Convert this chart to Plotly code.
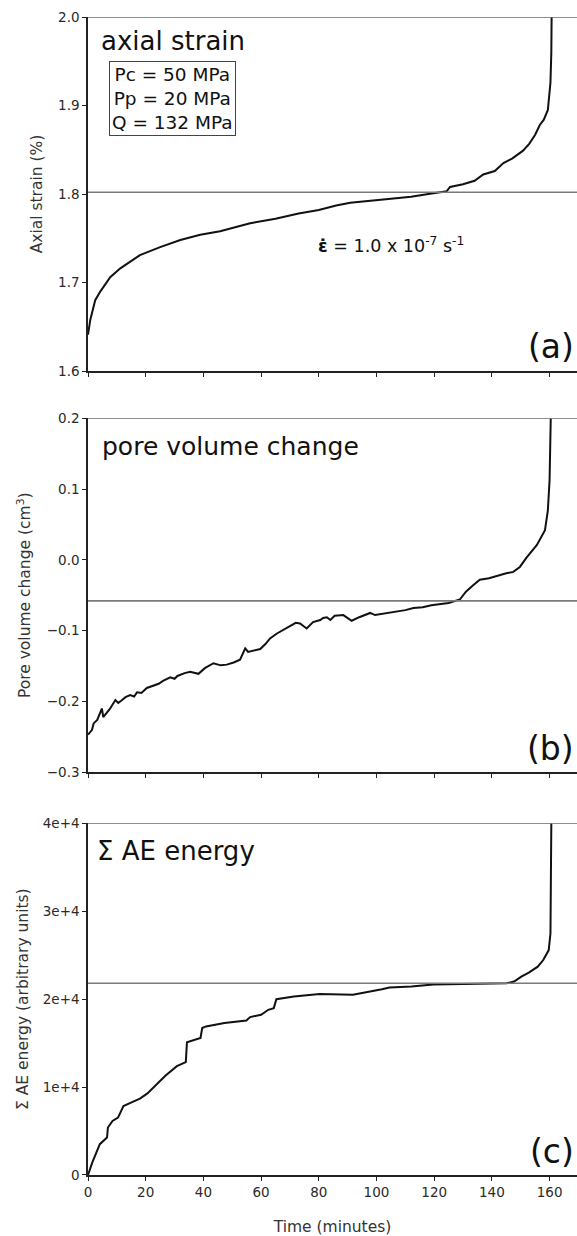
import plotly.graph_objects as go

# ---- axial strain (%) vs time (minutes) ----
strain_t = [0, 0.8, 2.5, 4.3, 7.7, 11.2, 18, 25, 32, 38.9, 45.8, 56.2, 65, 73, 80, 86,
            90.9, 97, 105.7, 112, 118, 124.3, 125.5, 130, 134, 137, 141, 144, 147,
            149.7, 150.8, 153, 155, 156.6, 158, 159.4, 160.3, 160.6, 160.7]
strain_v = [1.641, 1.658, 1.680, 1.690, 1.706, 1.716, 1.731, 1.740, 1.748, 1.754, 1.758,
            1.767, 1.772, 1.778, 1.782, 1.787, 1.790, 1.792, 1.795, 1.797, 1.800, 1.803,
            1.808, 1.811, 1.815, 1.822, 1.826, 1.835, 1.840, 1.847, 1.849, 1.857, 1.867,
            1.878, 1.884, 1.895, 1.926, 1.960, 2.0]
strain_ref = 1.802

# ---- pore volume change (cm3) vs time (minutes) ----
pore_t = [0, 1.4, 1.95, 3.2, 4.8, 5.3, 5.9, 7.5, 9.5, 10.5, 11.5, 13, 14.6, 16, 17, 18.5,
          20.4, 23, 24.5, 26, 28.5, 30, 31, 33.5, 35.4, 38.3, 40.5, 43.5, 46, 48.1,
          50.5, 52.7, 54.5, 55.5, 56.5, 59.7, 61.5, 63.1, 65.5, 67.7, 70, 71, 72, 73.5,
          75.8, 78, 80.5, 81.5, 82.8, 84, 85.5, 88.5, 91.4, 94, 97.8, 99.5, 101, 104,
          107, 110, 112.8, 116, 119, 122, 125, 128.9, 131, 133.5, 135.8, 139, 142.8,
          145, 147.4, 149.7, 152, 155.6, 158.4, 159.4, 160, 160.4]
pore_v = [-0.247, -0.240, -0.231, -0.226, -0.210, -0.222, -0.219, -0.211, -0.198, -0.202,
          -0.199, -0.194, -0.191, -0.193, -0.187, -0.188, -0.181, -0.177, -0.175, -0.171,
          -0.166, -0.168, -0.164, -0.160, -0.158, -0.161, -0.153, -0.146, -0.149, -0.148,
          -0.145, -0.141, -0.125, -0.130, -0.129, -0.126, -0.119, -0.111, -0.104, -0.099,
          -0.094, -0.091, -0.089, -0.090, -0.097, -0.088, -0.085, -0.082, -0.081, -0.085,
          -0.079, -0.078, -0.086, -0.081, -0.075, -0.078, -0.077, -0.074, -0.073, -0.071,
          -0.068, -0.067, -0.064, -0.062, -0.061, -0.056, -0.045, -0.036, -0.028, -0.026,
          -0.021, -0.019, -0.017, -0.010, 0.003, 0.021, 0.042, 0.070, 0.113, 0.200]
pore_ref = -0.058

# ---- cumulative AE energy (arbitrary units) vs time (minutes) ----
ae_t = [0, 1.5, 4.1, 6.6, 6.9, 8.5, 10.4, 12.3, 14.9, 18, 20.6, 23.1, 24.4, 26.9, 30.8,
        33.9, 34.3, 37.1, 39, 39.6, 40.9, 47.3, 51.1, 54.9, 56.2, 60, 62.5, 64.4, 65.3,
        71.4, 80.3, 91.8, 101.9, 104.5, 112.1, 119.7, 135, 145.1, 147.7, 150.2, 152.8,
        155.9, 157.8, 159.7, 160.3, 160.6]
ae_v = [0, 1434, 3509, 4264, 5400, 6150, 6530, 7850, 8230, 8680, 9280, 10110, 10490,
        11320, 12380, 12830, 15090, 15400, 15580, 16720, 16900, 17280, 17470, 17580,
        17960, 18230, 18790, 18980, 20000, 20300, 20600, 20490, 21130, 21320, 21430,
        21660, 21740, 21810, 22000, 22570, 23020, 23700, 24450, 25580, 27470, 40000]
ae_ref = 21811

ae_ticks = [0, 10000, 20000, 30000, 40000]
ae_tick_text = ["0", "1e+4", "2e+4", "3e+4", "4e+4"]
time_ticks = [0, 20, 40, 60, 80, 100, 120, 140, 160]

FONT = "DejaVu Sans"
TICK_FONT = dict(family=FONT, size=13.5, color="#2a2a2a")
TITLE_FONT = dict(family=FONT, size=15.5, color="#333")
CURVE = dict(color="#111", width=2)
REF = dict(color="#7a7a7a", width=1.6)

fig = go.Figure()
fig.add_trace(go.Scatter(x=strain_t, y=strain_v, mode="lines", line=CURVE,
                         xaxis="x", yaxis="y"))
fig.add_trace(go.Scatter(x=pore_t, y=pore_v, mode="lines", line=CURVE,
                         xaxis="x2", yaxis="y2"))
fig.add_trace(go.Scatter(x=ae_t, y=ae_v, mode="lines", line=CURVE,
                         xaxis="x3", yaxis="y3"))

xcommon = dict(range=[0, 169.5], showgrid=False, zeroline=False, showline=True,
               linecolor="#222", linewidth=1.5, ticks="outside", ticklen=4,
               tickcolor="#222", tickvals=time_ticks, tickfont=TICK_FONT)
ycommon = dict(showgrid=False, zeroline=False, showline=True, linecolor="#222",
               linewidth=1.5, ticks="outside", ticklen=4, tickcolor="#222",
               tickfont=TICK_FONT, title_font=TITLE_FONT)

fig.update_layout(
    width=577, height=1236,
    margin=dict(l=88, r=0, t=17, b=61),
    paper_bgcolor="white", plot_bgcolor="white",
    showlegend=False,
    xaxis=dict(xcommon, domain=[0, 1], anchor="y", showticklabels=False),
    xaxis2=dict(xcommon, domain=[0, 1], anchor="y2", showticklabels=False),
    xaxis3=dict(xcommon, domain=[0, 1], anchor="y3",
                title=dict(text="Time (minutes)", font=TITLE_FONT, standoff=22)),
    yaxis=dict(ycommon, domain=[0.6943, 1.0], range=[1.6, 2.0], dtick=0.1,
               tickformat=".1f", title=dict(text="Axial strain (%)", standoff=12)),
    yaxis2=dict(ycommon, domain=[0.3478, 0.6535], range=[-0.3, 0.2], dtick=0.1,
                tickformat=".1f",
                title=dict(text="Pore volume change (cm<sup>3</sup>)", standoff=12)),
    yaxis3=dict(ycommon, domain=[0.0, 0.3037], range=[0, 40000],
                tickvals=ae_ticks, ticktext=ae_tick_text,
                title=dict(text="Σ AE energy (arbitrary units)", standoff=10)),
)

# top frame lines and reference levels
for ax, top, ref in [("", 2.0, strain_ref), ("2", 0.2, pore_ref), ("3", 40000, ae_ref)]:
    fig.add_shape(type="line", xref=f"x{ax} domain", yref=f"y{ax}", x0=0, x1=1,
                  y0=top, y1=top, line=dict(color="#6a6a6a", width=1.6))
    fig.add_shape(type="line", xref=f"x{ax} domain", yref=f"y{ax}", x0=0, x1=1,
                  y0=ref, y1=ref, line=REF)

PANEL_FONT = dict(family=FONT, size=26, color="#111")
LETTER_FONT = dict(family=FONT, size=33, color="#111")

fig.add_annotation(xref="x domain", yref="y domain", x=0.022, y=0.932,
                   xanchor="left", yanchor="middle", text="axial strain",
                   showarrow=False, font=PANEL_FONT)
fig.add_annotation(xref="x domain", yref="y domain", x=0.173, y=0.77,
                   xanchor="center", yanchor="middle",
                   text="Pc = 50 MPa<br>Pp = 20 MPa<br>Q = 132 MPa",
                   showarrow=False, align="center",
                   font=dict(family=FONT, size=18.5, color="#111"),
                   bordercolor="#444", borderwidth=1, borderpad=2, bgcolor="white")
fig.add_annotation(xref="x domain", yref="y domain", x=0.62, y=0.357,
                   xanchor="center", yanchor="middle",
                   text="<b>ε̇</b> = 1.0 x 10<sup>-7</sup> s<sup>-1</sup>",
                   showarrow=False, font=dict(family=FONT, size=17.5, color="#111"))
fig.add_annotation(xref="x domain", yref="y domain", x=0.998, y=0.068,
                   xanchor="right", yanchor="middle", text="(a)",
                   showarrow=False, font=LETTER_FONT)

fig.add_annotation(xref="x2 domain", yref="y2 domain", x=0.024, y=0.919,
                   xanchor="left", yanchor="middle", text="pore volume change",
                   showarrow=False, font=dict(family=FONT, size=25, color="#111"))
fig.add_annotation(xref="x2 domain", yref="y2 domain", x=0.998, y=0.068,
                   xanchor="right", yanchor="middle", text="(b)",
                   showarrow=False, font=LETTER_FONT)

fig.add_annotation(xref="x3 domain", yref="y3 domain", x=0.014, y=0.92,
                   xanchor="left", yanchor="middle", text="Σ AE energy",
                   showarrow=False, font=PANEL_FONT)
fig.add_annotation(xref="x3 domain", yref="y3 domain", x=0.998, y=0.068,
                   xanchor="right", yanchor="middle", text="(c)",
                   showarrow=False, font=LETTER_FONT)

fig.write_html("out.html")
